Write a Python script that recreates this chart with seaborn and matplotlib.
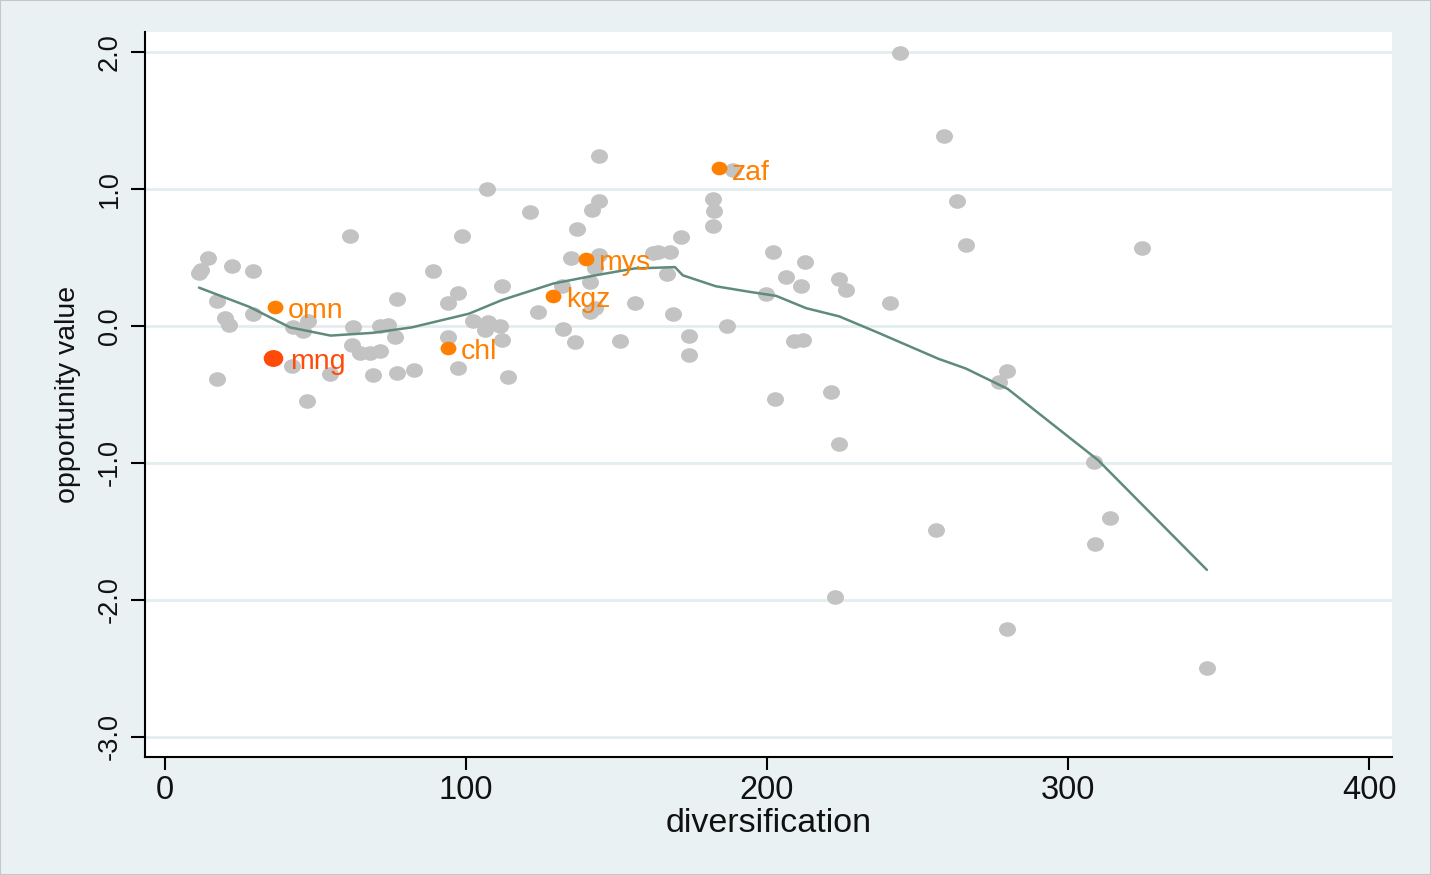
import numpy as np
import matplotlib
matplotlib.use("Agg")
import matplotlib.pyplot as plt
import seaborn as sns
from matplotlib.path import Path
from matplotlib.patches import Rectangle

# gray scatter (diversification, opportunity value)
div_x = [14.3, 12.0, 11.3, 22.2, 29.2, 17.3, 19.9, 21.3, 29.2, 61.5,
         89.0, 98.7, 97.3, 94.0, 77.1, 42.5, 45.8, 47.5, 62.5, 71.4,
         74.1, 76.4, 62.1, 64.8, 68.1, 71.4, 94.0, 42.2, 54.8, 69.1,
         77.1, 82.7, 97.3, 17.3, 47.2, 144.2, 106.9, 144.2, 142.0, 121.3,
         137.0, 182.2, 182.5, 182.0, 171.3, 163.9, 167.8, 134.8, 144.2, 142.9,
         166.9, 111.8, 141.2, 131.8, 156.1, 141.2, 142.9, 124.0, 168.9, 102.4,
         107.4, 111.3, 106.3, 111.9, 132.1, 136.2, 151.2, 174.1, 174.1, 186.8,
         114.1, 188.8, 263.0, 266.0, 202.1, 212.6, 206.3, 211.2, 224.0, 226.1,
         199.7, 240.9, 209.1, 212.1, 221.2, 202.7, 224.0, 276.9, 279.7, 244.0,
         258.9, 324.7, 308.7, 313.9, 309.0, 256.1, 222.6, 279.6, 346.1, 162.0]
opp_y = [0.50, 0.41, 0.39, 0.44, 0.40, 0.18, 0.06, 0.01, 0.09, 0.66,
         0.40, 0.66, 0.24, 0.17, 0.20, -0.01, -0.04, 0.04, -0.01, 0.00,
         0.01, -0.08, -0.14, -0.20, -0.20, -0.18, -0.08, -0.29, -0.35, -0.36,
         -0.34, -0.32, -0.31, -0.39, -0.55, 1.24, 1.00, 0.91, 0.85, 0.83,
         0.71, 0.93, 0.84, 0.73, 0.65, 0.54, 0.54, 0.50, 0.52, 0.42,
         0.38, 0.29, 0.32, 0.29, 0.17, 0.10, 0.13, 0.10, 0.09, 0.04,
         0.03, 0.00, -0.03, -0.10, -0.02, -0.12, -0.11, -0.07, -0.21, 0.00,
         -0.37, 1.14, 0.91, 0.59, 0.54, 0.47, 0.36, 0.29, 0.34, 0.26,
         0.23, 0.17, -0.11, -0.10, -0.48, -0.53, -0.86, -0.41, -0.33, 1.99,
         1.39, 0.57, -0.99, -1.40, -1.59, -1.49, -1.98, -2.21, -2.50, 0.53]

# highlighted countries
lab_names = ["omn", "chl", "kgz", "mys", "zaf"]
lab_x = [36.5, 94.0, 129.0, 139.8, 184.1]
lab_y = [0.14, -0.16, 0.22, 0.49, 1.15]
big_name, big_x, big_y = "mng", 35.9, -0.23

# lowess curve
fit_x = [11.3, 28, 41.5, 55, 69, 82, 101, 112, 129, 143, 156, 169.4,
         172, 183, 194, 203, 213, 224, 237, 257, 266, 280, 310, 346.1]
fit_y = [0.28, 0.14, -0.01, -0.07, -0.05, -0.01, 0.09, 0.19, 0.31, 0.37, 0.42, 0.43,
         0.37, 0.29, 0.25, 0.22, 0.13, 0.07, -0.05, -0.24, -0.31, -0.46, -0.98, -1.78]

sns.set_style("white")
plt.rcParams["font.family"] = ["Liberation Sans", "DejaVu Sans"]

W, H = 1431, 875
fig = plt.figure(figsize=(W / 100, H / 100), dpi=100, facecolor="#e9f1f3")
fig.patches.append(Rectangle((0, 0), 1, 1, transform=fig.transFigure, fill=False,
                             edgecolor="#c4c8ca", linewidth=1.5))
ax = fig.add_axes([145 / W, 1 - 757 / H, (1392 - 145) / W, (757 - 32) / H])
ax.set_facecolor("white")

# slightly squashed circle, like the stata markers
circ = Path.unit_circle()
oval = Path(circ.vertices * np.array([1.0, 0.86]), circ.codes)

sns.scatterplot(x=div_x, y=opp_y, ax=ax, color="#c3c3c3", marker=oval, s=150,
                linewidth=0, zorder=3)
sns.lineplot(x=fit_x, y=fit_y, ax=ax, color="#5f8b7b", linewidth=1.8, sort=False,
             estimator=None, zorder=4)
sns.scatterplot(x=lab_x, y=lab_y, ax=ax, color="#ff7f00", marker=oval, s=130,
                linewidth=0, zorder=5)
sns.scatterplot(x=[big_x], y=[big_y], ax=ax, color="#ff4a08", marker=oval, s=200,
                linewidth=0, zorder=5)

for n, x, y in zip(lab_names, lab_x, lab_y):
    ax.annotate(n, (x, y), xytext=(9, -3), textcoords="offset points",
                ha="left", va="center", fontsize=20.5, color="#ff7f00", zorder=6)
ax.annotate(big_name, (big_x, big_y), xytext=(12, -3), textcoords="offset points",
            ha="left", va="center", fontsize=20.5, color="#ff4a08", zorder=6)

ax.set_xlim(-6.64, 407.6)
ax.set_ylim(-3.146, 2.146)
ax.set_xticks([0, 100, 200, 300, 400])
ax.set_yticks([-3, -2, -1, 0, 1, 2])
ax.set_yticklabels(["-3.0", "-2.0", "-1.0", "0.0", "1.0", "2.0"])
ax.tick_params(axis="x", length=9, width=1.5, color="black", labelsize=23.5, pad=4,
               direction="out", bottom=True, labelcolor="#111111")
ax.tick_params(axis="y", length=10, width=1.5, color="black", labelsize=19.5, pad=6,
               direction="out", left=True, labelcolor="#111111")
for lbl in ax.get_yticklabels():
    lbl.set_rotation(90)
    lbl.set_va("center")

ax.yaxis.grid(True, color="#e2edf0", linewidth=2)
ax.xaxis.grid(False)
ax.set_axisbelow(True)
sns.despine(ax=ax)
for side in ["left", "bottom"]:
    ax.spines[side].set_color("black")
    ax.spines[side].set_linewidth(1.5)

ax.set_xlabel("diversification", fontsize=24.5, color="#111111")
ax.set_ylabel("opportunity value", fontsize=20.5, color="#111111")
ax.xaxis.set_label_coords(0.5, -0.071)
ax.yaxis.set_label_coords(-0.051, 0.5)

fig.savefig("out.png", dpi=100, facecolor=fig.get_facecolor())
